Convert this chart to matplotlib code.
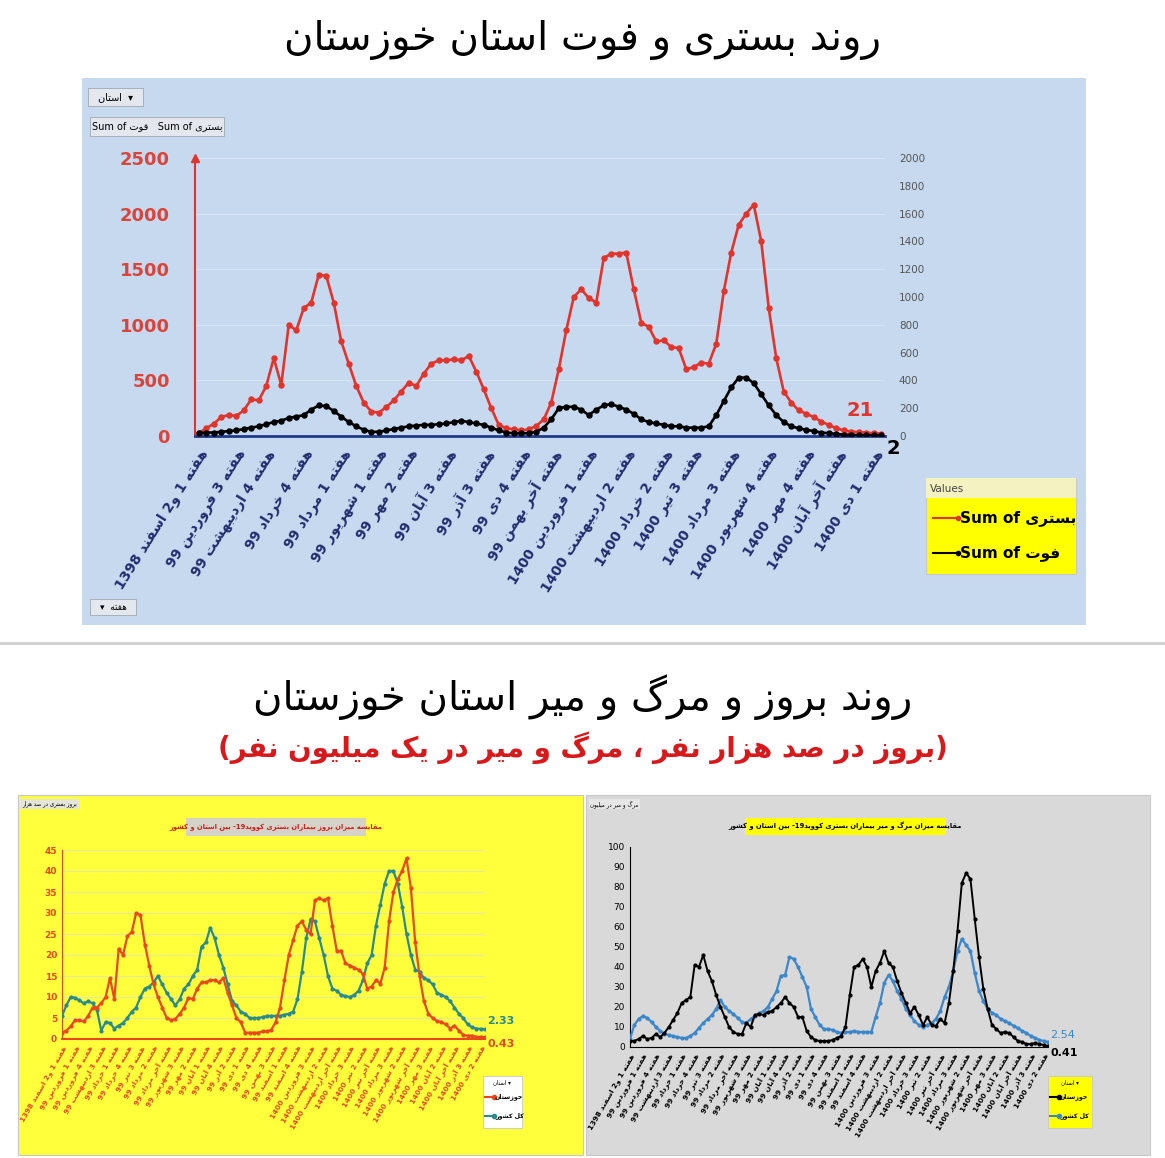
import matplotlib
matplotlib.use("Agg")
import matplotlib.pyplot as plt
import numpy as np
from matplotlib.patches import Rectangle

plt.rcParams['font.family'] = ['DejaVu Sans']

# ---------------- simple Persian shaping ----------------
F = {
 'ا': ('\uFE8D', '\uFE8E', None, None), 'آ': ('\uFE81', '\uFE82', None, None),
 'ب': ('\uFE8F', '\uFE90', '\uFE91', '\uFE92'), 'پ': ('\uFB56', '\uFB57', '\uFB58', '\uFB59'),
 'ت': ('\uFE95', '\uFE96', '\uFE97', '\uFE98'), 'ج': ('\uFE9D', '\uFE9E', '\uFE9F', '\uFEA0'),
 'چ': ('\uFB7A', '\uFB7B', '\uFB7C', '\uFB7D'), 'ح': ('\uFEA1', '\uFEA2', '\uFEA3', '\uFEA4'),
 'خ': ('\uFEA5', '\uFEA6', '\uFEA7', '\uFEA8'), 'د': ('\uFEA9', '\uFEAA', None, None),
 'ذ': ('\uFEAB', '\uFEAC', None, None), 'ر': ('\uFEAD', '\uFEAE', None, None),
 'ز': ('\uFEAF', '\uFEB0', None, None), 'ژ': ('\uFB8A', '\uFB8B', None, None),
 'س': ('\uFEB1', '\uFEB2', '\uFEB3', '\uFEB4'), 'ش': ('\uFEB5', '\uFEB6', '\uFEB7', '\uFEB8'),
 'ص': ('\uFEB9', '\uFEBA', '\uFEBB', '\uFEBC'), 'ع': ('\uFEC9', '\uFECA', '\uFECB', '\uFECC'),
 'ف': ('\uFED1', '\uFED2', '\uFED3', '\uFED4'), 'ق': ('\uFED5', '\uFED6', '\uFED7', '\uFED8'),
 'ک': ('\uFB8E', '\uFB8F', '\uFB90', '\uFB91'), 'گ': ('\uFB92', '\uFB93', '\uFB94', '\uFB95'),
 'ل': ('\uFEDD', '\uFEDE', '\uFEDF', '\uFEE0'), 'م': ('\uFEE1', '\uFEE2', '\uFEE3', '\uFEE4'),
 'ن': ('\uFEE5', '\uFEE6', '\uFEE7', '\uFEE8'), 'ه': ('\uFEE9', '\uFEEA', '\uFEEB', '\uFEEC'),
 'و': ('\uFEED', '\uFEEE', None, None), 'ی': ('\uFBFC', '\uFBFD', '\uFBFE', '\uFBFF'),
}

def shape(w):
    out = []
    for k, c in enumerate(w):
        if c not in F:
            out.append(c); continue
        p = w[k-1] if k > 0 else None
        n = w[k+1] if k + 1 < len(w) else None
        jp = p in F and F[p][2] is not None
        jn = n in F and F[c][2] is not None
        iso, fin, ini, med = F[c]
        out.append(med if jp and jn else fin if jp else ini if jn else iso)
    return ''.join(out)

def fa(s):
    toks = s.split(' ')
    vis = []
    for t in reversed(toks):
        runs, cur, ca = [], '', None
        for c in t:
            a = c in F
            if ca is None or a == ca:
                cur += c
            else:
                runs.append((cur, ca)); cur = c
            ca = a
        if cur:
            runs.append((cur, ca))
        if any(a for _, a in runs):
            runs = runs[::-1]
        tt = ''.join(shape(r)[::-1] if a else r for r, a in runs)
        tt = tt.translate(str.maketrans('()', ')('))
        vis.append(tt)
    return ' '.join(vis)

# ---------------- data ----------------
top_labels = ["هفته 1 و2 اسفند 1398", "هفته 3 فروردین 99", "هفته 4 اردیبهشت 99", "هفته 4 خرداد 99",
              "هفته 1 مرداد 99", "هفته 1 شهریور 99", "هفته 2 مهر 99", "هفته 3 آبان 99", "هفته 3 آذر 99",
              "هفته 4 دی 99", "هفته آخر بهمن 99", "هفته 1 فروردین 1400", "هفته 2 اردیبهشت 1400",
              "هفته 2 خرداد 1400", "هفته 3 تیر 1400", "هفته 3 مرداد 1400", "هفته 4 شهریور 1400",
              "هفته 4 مهر 1400", "هفته آخر آبان 1400", "هفته 1 دی 1400"]

top_hosp = [25, 70, 110, 170, 190, 180, 230, 330, 320, 450, 700, 460, 1000, 950, 1150, 1200, 1450, 1440,
            1200, 850, 650, 450, 300, 220, 210, 260, 320, 400, 480, 450, 560, 650, 680, 680, 690, 680,
            720, 580, 420, 250, 100, 70, 60, 50, 60, 90, 150, 300, 600, 950, 1250, 1320, 1240, 1200,
            1600, 1640, 1640, 1650, 1320, 1020, 980, 850, 860, 800, 790, 600, 620, 660, 650, 830, 1300,
            1650, 1900, 2000, 2080, 1750, 1150, 700, 400, 300, 230, 200, 170, 130, 100, 70, 50, 40, 35,
            30, 25, 21]
top_death = [20, 25, 25, 30, 35, 40, 50, 60, 70, 85, 100, 110, 130, 140, 150, 190, 220, 215, 180, 140,
             100, 70, 45, 30, 30, 40, 50, 60, 70, 75, 80, 80, 85, 90, 100, 110, 100, 90, 80, 60, 40, 25,
             20, 20, 20, 30, 60, 120, 200, 210, 210, 190, 150, 190, 220, 230, 210, 190, 160, 120, 100,
             90, 80, 70, 70, 60, 60, 60, 70, 150, 250, 350, 420, 420, 380, 300, 220, 150, 100, 70, 55,
             45, 35, 25, 20, 15, 10, 8, 6, 5, 5, 5]

bot_labels = ["هفته 1 و2 اسفند 1398", "هفته 1 فروردین 99", "هفته 4 فروردین 99", "هفته 3 اردیبهشت 99",
              "هفته 1 خرداد 99", "هفته 4 خرداد 99", "هفته 3 تیر 99", "هفته 2 مرداد 99", "هفته آخر مرداد 99",
              "هفته 3 شهریور 99", "هفته 2 مهر 99", "هفته 1 آبان 99", "هفته 4 آبان 99", "هفته 2 آذر 99",
              "هفته 1 دی 99", "هفته 4 دی 99", "هفته 3 بهمن 99", "هفته 1 اسفند 99", "هفته 4 اسفند 99",
              "هفته 3 فروردین 1400", "هفته 2 اردیبهشت 1400", "هفته آخر اردیبهشت 1400", "هفته 3 خرداد 1400",
              "هفته 2 تیر 1400", "هفته آخر تیر 1400", "هفته 3 مرداد 1400", "هفته 2 شهریور 1400",
              "هفته آخر شهریور 1400", "هفته 3 مهر 1400", "هفته 2 آبان 1400", "هفته آخر آبان 1400",
              "هفته 3 آذر 1400", "هفته 2 دی 1400"]

inc_khz = [1.5, 2, 3, 4.5, 4.5, 4.2, 5.5, 7.5, 7.5, 8.5, 10, 14.5, 9.5, 21.5, 20, 24.5, 25.5, 30, 29.5,
           22.5, 17.5, 13, 10, 7.5, 5, 4.5, 4.8, 6, 7.5, 9.8, 9.5, 12, 13.5, 13.5, 14, 14, 13.5, 14.5,
           11, 8, 5, 4, 1.5, 1.5, 1.5, 1.5, 1.8, 1.8, 2.2, 4, 7.5, 14, 20, 23.5, 27, 28, 26, 25, 33,
           33.5, 33, 33.5, 27, 21, 21, 18, 17.5, 17, 16.5, 15.5, 12, 12.5, 14, 13.2, 17, 28, 35, 38,
           40, 43, 36, 23, 15, 9, 6, 5, 4.3, 4, 3.5, 2.5, 3.2, 2, 1, 0.8, 0.8, 0.5, 0.5, 0.43]
inc_iran = [5.5, 8, 10, 9.8, 9.2, 8.5, 9, 8.5, 7, 2, 4, 3.8, 2.5, 3.2, 3.8, 5, 6.5, 7.5, 10, 12, 12.5,
            13.5, 15, 13, 11, 9.5, 8, 9.5, 12, 13, 15, 16.5, 22, 23, 26.5, 24, 20, 17, 13, 9, 8, 6.5,
            6, 5, 5, 5, 5.2, 5.5, 5.5, 5.5, 5.5, 5.8, 6, 6.5, 9.5, 16, 24, 28.5, 28, 24, 20, 15, 12,
            11.5, 10.5, 10.2, 10, 10.5, 11.5, 14, 18, 20, 27, 32, 37, 40, 40, 37, 31.5, 25, 20, 16.5,
            16, 14.5, 14, 13, 11, 10.5, 10, 9, 7.5, 6, 5, 3.5, 2.8, 2.5, 2.4, 2.33]

mort_khz = [3, 3, 4, 5.5, 4, 4.5, 6.5, 5, 7, 10, 13.5, 17, 22, 23.5, 25, 41, 40, 46, 38, 33, 26, 20, 15,
            10, 7.5, 6.5, 6.5, 12, 10, 16, 16.5, 16, 17.5, 18, 20, 22, 25, 22, 20, 15, 15, 8, 5, 3.5,
            3, 3, 3, 3.5, 4.5, 5.5, 10, 26, 40, 41, 44, 40, 30, 38, 42, 48, 42, 40, 33, 27, 22, 17, 20,
            16, 11, 15, 11, 10.5, 14, 12, 22, 38, 58, 82, 87, 84, 64, 45, 29, 19, 11, 9, 7, 7.5, 7, 5,
            3, 2.5, 1.5, 1.5, 2, 1.5, 1, 0.41]
mort_iran = [4, 11, 14, 15.5, 14.5, 12.5, 10, 8, 6.5, 6, 5.5, 5, 4.5, 4.5, 5.5, 7, 9.5, 12, 14, 16, 19,
             23.5, 20, 18, 16.5, 14.5, 12.5, 12, 14, 15.5, 17, 18, 20, 24, 28, 35.5, 36, 45, 44, 40, 35,
             30, 19, 15, 11, 9, 9, 8.5, 7.5, 7, 7.5, 7.5, 8, 7.5, 7.5, 7.5, 7.5, 15, 22, 32, 36, 33, 28,
             24, 19, 16, 13, 11, 10, 11, 12, 14, 18, 25, 30, 38, 48, 54, 51, 48, 37, 28, 23, 19, 17, 16,
             14, 13, 12, 10.5, 9.5, 8, 7, 5.5, 4.5, 3.5, 3, 2.54]

W, H = 1165, 1158
fig = plt.figure(figsize=(W/100, H/100), dpi=100)
fig.patch.set_facecolor('white')

def rect(x0, y0, x1, y1):
    return [x0/W, 1-y1/H, (x1-x0)/W, (y1-y0)/H]

def box(x0, y0, x1, y1, fc, ec='none', lw=1, z=0):
    fig.patches.append(Rectangle((x0/W, 1-y1/H), (x1-x0)/W, (y1-y0)/H, transform=fig.transFigure,
                                 facecolor=fc, edgecolor=ec, lw=lw, zorder=z))

def ftext(x, y, s, **kw):
    kw.setdefault('zorder', 6)
    fig.text(x/W, 1-y/H, s, **kw)

def fline(x0, x1, y, color):
    fig.lines.append(plt.Line2D([x0/W, x1/W], [1-y/H]*2, color=color, lw=1.5, marker='o', ms=3,
                                markevery=[1], transform=fig.transFigure, zorder=6))

# ---------------- top section ----------------
ftext(583, 40, fa("روند بستری و فوت استان خوزستان"), ha='center', va='center', fontsize=29)
box(82, 78, 1086, 625, '#c6d9ef')
box(88, 88, 143, 106, '#e4e8ee', '#a0a8b0', 0.6, 1)
ftext(115, 97, fa("استان") + "  ▾", ha='center', va='center', fontsize=7)
box(90, 117, 224, 136, '#e4e8ee', '#a0a8b0', 0.6, 1)
ftext(157, 126, "Sum of " + fa("فوت") + "   Sum of " + fa("بستری"), ha='center', va='center', fontsize=7)
box(90, 599, 136, 615, '#e4e8ee', '#a0a8b0', 0.6, 1)
ftext(113, 607, "▾  " + fa("هفته"), ha='center', va='center', fontsize=6.5)

RED = '#e0342c'
ax = fig.add_axes(rect(195, 158, 885, 436))
ax.set_zorder(3)
ax.set_facecolor('none')
x = np.arange(len(top_hosp))
ax.plot(x, top_hosp, color=RED, lw=1.9, marker='o', ms=3.6, zorder=3)
ax.set_ylim(0, 2500)
ax.set_xlim(-0.5, len(top_hosp) - 0.5)
ax.set_yticks(range(0, 2501, 500))
ax.grid(axis='y', color='#d6e3f2', lw=0.8)
ax.tick_params(axis='y', colors='#d9453b', labelsize=13, length=0, pad=18)
for t in ax.get_yticklabels():
    t.set_fontweight('bold')
for s in ['top', 'right']:
    ax.spines[s].set_visible(False)
ax.spines['left'].set_color(RED); ax.spines['left'].set_linewidth(1.5)
ax.spines['bottom'].set_color('#1f3a8a'); ax.spines['bottom'].set_linewidth(2)
ax.plot([0], [1], transform=ax.transAxes, marker='^', color=RED, ms=6, clip_on=False)
tpos = np.round(np.linspace(0, len(top_hosp) - 2, len(top_labels)))
ax.set_xticks(tpos)
ax.set_xticklabels([fa(l) for l in top_labels], rotation=58, ha='right', rotation_mode='anchor',
                   fontsize=10, fontweight='bold', color='#1f2d6e')
ax.tick_params(axis='x', length=0, pad=8)
ax.text(len(top_hosp) - 2, 230, "21", color=RED, fontsize=14, fontweight='bold', ha='right', va='center')
ax.text(len(top_hosp) - 0.3, -110, "2", color='black', fontsize=14, fontweight='bold', ha='left', va='center')

ax2 = ax.twinx()
ax2.set_zorder(4)
ax2.plot(x, top_death, color='black', lw=1.9, marker='o', ms=3.6, zorder=3)
ax2.set_ylim(0, 2000)
ax2.set_yticks(range(0, 2001, 200))
ax2.tick_params(axis='y', colors='#555555', labelsize=7.5, length=0, pad=10)
for s in ax2.spines.values():
    s.set_visible(False)

box(926, 478, 1076, 574, '#ffff00', '#c8c8c8', 0.8, 1)
box(926, 478, 1076, 498, '#f4f2c0', 'none', 0, 1)
ftext(930, 489, "Values", ha='left', va='center', fontsize=7.5, color='#444444')
fline(933, 958, 518, RED)
ftext(960, 518, "Sum of " + fa("بستری"), ha='left', va='center', fontsize=11, fontweight='bold')
fline(933, 958, 553, 'black')
ftext(960, 553, "Sum of " + fa("فوت"), ha='left', va='center', fontsize=11, fontweight='bold')

fig.lines.append(plt.Line2D([0, 1], [1-643/H]*2, color='#cfcfcf', lw=2, transform=fig.transFigure))

# ---------------- bottom titles ----------------
ftext(583, 697, fa("روند بروز و مرگ و میر استان خوزستان"), ha='center', va='center', fontsize=29)
ftext(583, 748, fa("(بروز در صد هزار نفر ، مرگ و میر در یک میلیون نفر)"), ha='center', va='center',
      fontsize=20, fontweight='bold', color='#d7191c')

# ---------------- bottom left ----------------
box(18, 795, 583, 1155, '#ffff3c', '#c8c8c8', 0.8)
box(186, 818, 366, 836, '#d3d3c8', 'none', 0, 1)
ftext(276, 827, fa("مقایسه میزان بروز بیماران بستری کووید-19 بین استان و کشور"), ha='center', va='center',
      fontsize=4.9, fontweight='bold', color='#d7191c')
box(20, 799, 80, 809, '#e4e4d8', 'none', 0, 1)
ftext(50, 804, fa("بروز بستری در صد هزار"), ha='center', va='center', fontsize=4)

xb = np.arange(len(inc_khz))
bpos = np.arange(0, len(inc_khz), 3)[:len(bot_labels)]

axl = fig.add_axes(rect(62, 850, 485, 1039))
axl.set_zorder(3)
axl.set_facecolor('none')
axl.plot(xb, inc_iran, color='#2a8a8c', lw=1.6, marker='o', ms=2, zorder=3)
axl.plot(xb, inc_khz, color='#e8481c', lw=1.6, marker='o', ms=2, zorder=4)
axl.set_ylim(0, 45); axl.set_xlim(0, len(inc_khz) - 1)
axl.set_yticks(range(0, 46, 5))
axl.grid(axis='y', color='#e8e89a', lw=0.8)
axl.tick_params(axis='y', colors='#e8481c', labelsize=6.5, length=0)
for t in axl.get_yticklabels():
    t.set_fontweight('bold')
for s in ['top', 'right']:
    axl.spines[s].set_visible(False)
axl.spines['left'].set_color('#e8481c'); axl.spines['bottom'].set_color('#e8481c')
axl.spines['bottom'].set_linewidth(1.5)
axl.set_xticks(bpos)
axl.set_xticklabels([fa(l) for l in bot_labels], rotation=60, ha='right', rotation_mode='anchor',
                    fontsize=5.3, fontweight='bold', color='#e8481c')
axl.tick_params(axis='x', length=0, pad=4)
axl.text(len(inc_khz) - 0.5, 3.6, "2.33", color='#2a8a8c', fontsize=8, fontweight='bold', ha='left')
axl.text(len(inc_khz) - 0.5, -1.2, "0.43", color='#e8481c', fontsize=8, fontweight='bold', ha='left', va='center')

box(483, 1076, 522, 1128, 'white', '#c8c8c8', 0.6, 1)
ftext(502, 1082, fa("استان") + " ▾", ha='center', va='center', fontsize=4)
fline(485, 494, 1097, '#e8481c')
ftext(495, 1097, fa("خوزستان"), ha='left', va='center', fontsize=4.5, fontweight='bold')
fline(485, 494, 1116, '#2a8a8c')
ftext(495, 1116, fa("کل کشور"), ha='left', va='center', fontsize=4.5, fontweight='bold')

# ---------------- bottom right ----------------
box(586, 795, 1150, 1155, '#d9d9d9', '#c8c8c8', 0.8)
box(745, 818, 946, 835, '#ffff00', 'none', 0, 1)
ftext(845, 826, fa("مقایسه میزان مرگ و میر بیماران بستری کووید-19 بین استان و کشور"), ha='center', va='center',
      fontsize=4.9, fontweight='bold', color='black')
box(589, 799, 640, 809, '#e6e6e6', 'none', 0, 1)
ftext(614, 804, fa("مرگ و میر در میلیون"), ha='center', va='center', fontsize=4)

axr = fig.add_axes(rect(630, 847, 1048, 1047))
axr.set_zorder(3)
axr.set_facecolor('none')
axr.plot(xb, mort_iran, color='#3b87c9', lw=1.6, marker='o', ms=2, zorder=3)
axr.plot(xb, mort_khz, color='black', lw=1.4, marker='o', ms=2, zorder=4)
axr.set_ylim(0, 100); axr.set_xlim(0, len(mort_khz) - 1)
axr.set_yticks(range(0, 101, 10))
axr.tick_params(axis='y', colors='black', labelsize=6.5, length=0)
for s in ['top', 'right']:
    axr.spines[s].set_visible(False)
axr.set_xticks(bpos)
axr.set_xticklabels([fa(l) for l in bot_labels], rotation=60, ha='right', rotation_mode='anchor',
                    fontsize=5.3, fontweight='bold', color='black')
axr.tick_params(axis='x', length=0, pad=4)
axr.text(len(mort_khz) - 0.5, 4.5, "2.54", color='#3b87c9', fontsize=8, ha='left')
axr.text(len(mort_khz) - 0.5, -3, "0.41", color='black', fontsize=8, fontweight='bold', ha='left', va='center')

box(1048, 1076, 1092, 1128, '#ffff00', '#c8c8c8', 0.6, 1)
ftext(1070, 1082, fa("استان") + " ▾", ha='center', va='center', fontsize=4)
fline(1050, 1059, 1097, 'black')
ftext(1060, 1097, fa("خوزستان"), ha='left', va='center', fontsize=4.5, fontweight='bold')
fline(1050, 1059, 1116, '#3b87c9')
ftext(1060, 1116, fa("کل کشور"), ha='left', va='center', fontsize=4.5, fontweight='bold')

fig.savefig("out.png", dpi=100)
